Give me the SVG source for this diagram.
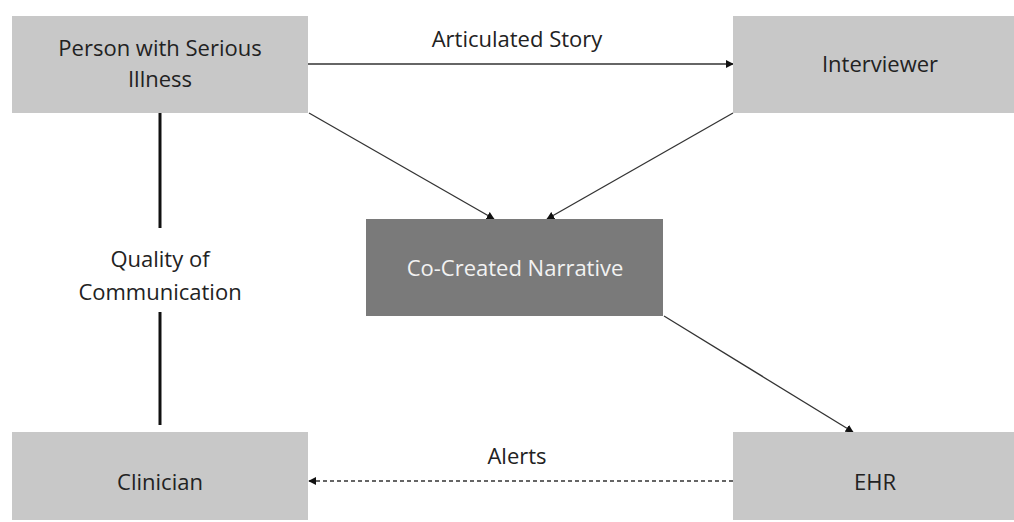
<svg xmlns="http://www.w3.org/2000/svg" width="1014" height="522" viewBox="0 0 1014 522">
<style>
.box{fill:#c8c8c8}
.dark{fill:#7a7a7a}
text{font-family:"Open Sans","Liberation Sans",sans-serif;font-size:22px;fill:#222;text-anchor:middle}
.light{fill:#f2f2f2}
.ln{stroke:#333;stroke-width:1.3;fill:none}
</style>
<defs>
<marker id="ah" viewBox="0 0 10 10" refX="9" refY="5" markerWidth="8" markerHeight="8" markerUnits="userSpaceOnUse" orient="auto"><path d="M0,0 L10,5 L0,10 z" fill="#111"/></marker>
</defs>
<rect width="1014" height="522" fill="#fff"/>
<g id="connectors">
<line class="ln" x1="308" y1="64" x2="733" y2="64" marker-end="url(#ah)"/>
<line class="ln" x1="309" y1="113" x2="494" y2="219" marker-end="url(#ah)"/>
<line class="ln" x1="733" y1="113" x2="547" y2="219" marker-end="url(#ah)"/>
<line class="ln" x1="664" y1="316" x2="853" y2="432" marker-end="url(#ah)"/>
<line class="ln" x1="733" y1="481" x2="309" y2="481" stroke-dasharray="4,3" marker-end="url(#ah)"/>
<line x1="160" y1="113" x2="160" y2="228" stroke="#111" stroke-width="3"/>
<line x1="160" y1="312" x2="160" y2="425" stroke="#111" stroke-width="3"/>
<text x="517" y="47">Articulated Story</text>
<text x="517" y="464">Alerts</text>
<text x="160" y="267">Quality of</text>
<text x="160" y="300">Communication</text>
</g>
<g id="person"><rect class="box" x="12" y="16" width="296" height="97"/><text x="160" y="56">Person with Serious</text><text x="160" y="87">Illness</text></g>
<g id="interviewer"><rect class="box" x="733" y="16" width="281" height="97"/><text x="880" y="72">Interviewer</text></g>
<g id="narrative"><rect class="dark" x="366" y="219" width="297" height="97"/><text class="light" x="515" y="276">Co-Created Narrative</text></g>
<g id="clinician"><rect class="box" x="12" y="432" width="296" height="88"/><text x="160" y="490">Clinician</text></g>
<g id="ehr"><rect class="box" x="733" y="432" width="281" height="88"/><text x="875" y="490">EHR</text></g>
</svg>
